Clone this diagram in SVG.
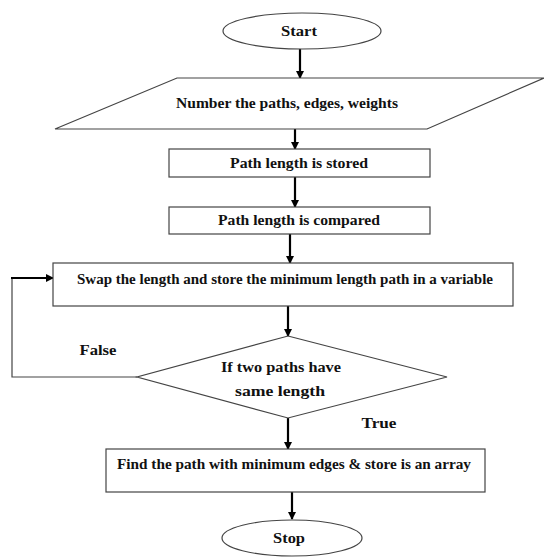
<svg xmlns="http://www.w3.org/2000/svg" width="544" height="558" viewBox="0 0 544 558" font-family="Liberation Serif, Times New Roman, serif">
<defs>
<style>
.shape{fill:#fff;stroke:#444;stroke-width:1.2}
.t{font-family:"Liberation Serif",serif;font-weight:bold;font-size:14px;fill:#111;text-anchor:middle}
.c{fill:none;stroke:#000;stroke-width:2.2}
.thin{fill:none;stroke:#444;stroke-width:1.2}
</style>
<marker id="ah" markerWidth="8" markerHeight="8" refX="7" refY="4" orient="auto" markerUnits="userSpaceOnUse" viewBox="0 0 8 8">
<path d="M0,0 L8,4 L0,8 z" fill="#000"/>
</marker>
</defs>
<rect width="544" height="558" fill="#fff"/>
<g id="connectors">
<line class="c" x1="300" y1="49" x2="300" y2="78" marker-end="url(#ah)"/>
<line class="c" x1="295" y1="129" x2="295" y2="149" marker-end="url(#ah)"/>
<line class="c" x1="295" y1="177" x2="295" y2="207" marker-end="url(#ah)"/>
<line class="c" x1="290" y1="234" x2="290" y2="263" marker-end="url(#ah)"/>
<line class="c" x1="288" y1="306" x2="288" y2="336" marker-end="url(#ah)"/>
<line class="c" x1="288" y1="418" x2="288" y2="449" marker-end="url(#ah)"/>
<line class="c" x1="292" y1="492" x2="292" y2="519" marker-end="url(#ah)"/>
<polyline class="thin" points="137,377 12,377 12,278"/>
<line class="c" x1="11" y1="278" x2="53" y2="278" marker-end="url(#ah)"/>
<text class="t" x="98" y="355" textLength="37" lengthAdjust="spacingAndGlyphs">False</text>
<text class="t" x="379" y="428" textLength="35" lengthAdjust="spacingAndGlyphs">True</text>
</g>
<g id="start">
<ellipse class="shape" cx="302" cy="31" rx="79" ry="18"/>
<text class="t" x="299" y="36" textLength="36" lengthAdjust="spacingAndGlyphs">Start</text>
</g>
<g id="number">
<polygon class="shape" points="177,78 544,78 427,129 55,129"/>
<text class="t" x="287" y="108" textLength="222" lengthAdjust="spacingAndGlyphs">Number the paths, edges, weights</text>
</g>
<g id="stored">
<rect class="shape" x="169" y="149" width="261" height="28"/>
<text class="t" x="299" y="168" textLength="138" lengthAdjust="spacingAndGlyphs">Path length is stored</text>
</g>
<g id="compared">
<rect class="shape" x="169" y="207" width="261" height="27"/>
<text class="t" x="299" y="225" textLength="162" lengthAdjust="spacingAndGlyphs">Path length is compared</text>
</g>
<g id="swap">
<rect class="shape" x="53" y="263" width="460" height="43"/>
<text class="t" x="285" y="284" textLength="416" lengthAdjust="spacingAndGlyphs">Swap the length and store the minimum length path in a variable</text>
</g>
<g id="decision">
<polygon class="shape" points="288,336 447,377 288,418 137,377"/>
<text class="t" x="281" y="372" textLength="120" lengthAdjust="spacingAndGlyphs">If two paths have</text>
<text class="t" x="280" y="396" textLength="90" lengthAdjust="spacingAndGlyphs">same length</text>
</g>
<g id="find">
<rect class="shape" x="106" y="449" width="379" height="43"/>
<text class="t" x="294" y="469" textLength="354" lengthAdjust="spacingAndGlyphs">Find the path with minimum edges &amp; store is an array</text>
</g>
<g id="stop">
<ellipse class="shape" cx="292" cy="538" rx="70" ry="18"/>
<text class="t" x="289" y="543" textLength="32" lengthAdjust="spacingAndGlyphs">Stop</text>
</g>
</svg>
